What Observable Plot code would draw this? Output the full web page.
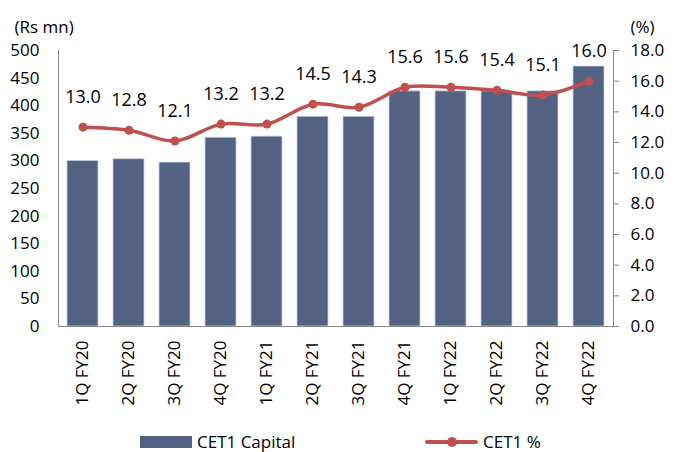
<!DOCTYPE html>
<html><head><meta charset="utf-8">
<script src="https://cdn.jsdelivr.net/npm/d3@7"></script>
<script src="https://cdn.jsdelivr.net/npm/@observablehq/plot@0.6"></script>
<style>
body{margin:0;background:#fff;font-family:"Open Sans",sans-serif;}
#legend{position:relative;width:679px;height:47px;font-size:17px;color:#000;}
#legend .sw{position:absolute;}
#legend .lab{position:absolute;top:29px;height:16px;line-height:16px;white-space:nowrap;}
</style></head><body>
<div id="chart"></div>
<div id="legend">
  <div class="sw" style="left:140px;top:31px;width:52px;height:12px;background:#536183"></div>
  <div class="lab" style="left:197px">CET1 Capital</div>
  <div class="sw" style="left:425px;top:35px;width:53px;height:4px;background:#C0504D;border-radius:2px"></div>
  <div class="sw" style="left:447px;top:32px;width:10px;height:10px;background:#C0504D;border-radius:50%"></div>
  <div class="lab" style="left:483px">CET1 %</div>
</div>
<script>
const quarters = ["1Q FY20","2Q FY20","3Q FY20","4Q FY20","1Q FY21","2Q FY21","3Q FY21","4Q FY21","1Q FY22","2Q FY22","3Q FY22","4Q FY22"];
const cet1Capital = [300,303,297,342,344,380,380,426,426,426,426,471];
const cet1Pct = [13.0,12.8,12.1,13.2,13.2,14.5,14.3,15.6,15.6,15.4,15.1,16.0];
const leftTicks = [0,50,100,150,200,250,300,350,400,450,500];
const rightTicks = [0,2,4,6,8,10,12,14,16,18];
const CAP_MAX = 500, PCT_MAX = 18;
const k = CAP_MAX / PCT_MAX;
const rows = quarters.map((q, i) => ({q, cap: cet1Capital[i], pct: cet1Pct[i], pctScaled: cet1Pct[i] * k}));

const chart = Plot.plot({
  width: 679, height: 405,
  marginTop: 50, marginBottom: 79, marginLeft: 58, marginRight: 66,
  style: {fontFamily: "Open Sans", fontSize: "17px", color: "#000", background: "#fff"},
  x: {domain: quarters, paddingInner: 0.33, paddingOuter: 0.165, axis: null},
  y: {domain: [0, CAP_MAX], axis: null},
  marks: [
    Plot.barY(rows, {x: "q", y: "cap", fill: "#536183", stroke: "#c9d0de", strokeWidth: 0.8}),
    Plot.frame({anchor: "left", stroke: "#888"}),
    Plot.frame({anchor: "right", stroke: "#888"}),
    Plot.frame({anchor: "bottom", stroke: "#888"}),
    Plot.axisY(leftTicks, {anchor: "left", tickSize: 0, tickPadding: 19, label: null, fontSize: 17}),
    Plot.axisY(rightTicks.map(v => v * k), {anchor: "right", tickSize: 5, tickPadding: 12, stroke: "#888", label: null, fontSize: 17, tickFormat: d => (d / k).toFixed(1)}),
    Plot.axisX({tickRotate: -90, tickSize: 0, tickPadding: 14, label: null, fontSize: 17}),
    Plot.lineY(rows, {x: "q", y: "pctScaled", stroke: "#C0504D", strokeWidth: 3.5, curve: "catmull-rom"}),
    Plot.dot(rows, {x: "q", y: "pctScaled", r: 4.5, fill: "#C0504D"}),
    Plot.text(rows, {x: "q", y: "pctScaled", text: d => d.pct.toFixed(1), dy: -30, fontSize: 18}),
    Plot.text(["(Rs mn)"], {text: d => d, frameAnchor: "top-left", textAnchor: "start", dx: -44, dy: -30, fontSize: 17}),
    Plot.text(["(%)"], {text: d => d, frameAnchor: "top-right", textAnchor: "start", dx: 17, dy: -30, fontSize: 17})
  ]
});
document.getElementById("chart").appendChild(chart);
</script>
</body></html>
